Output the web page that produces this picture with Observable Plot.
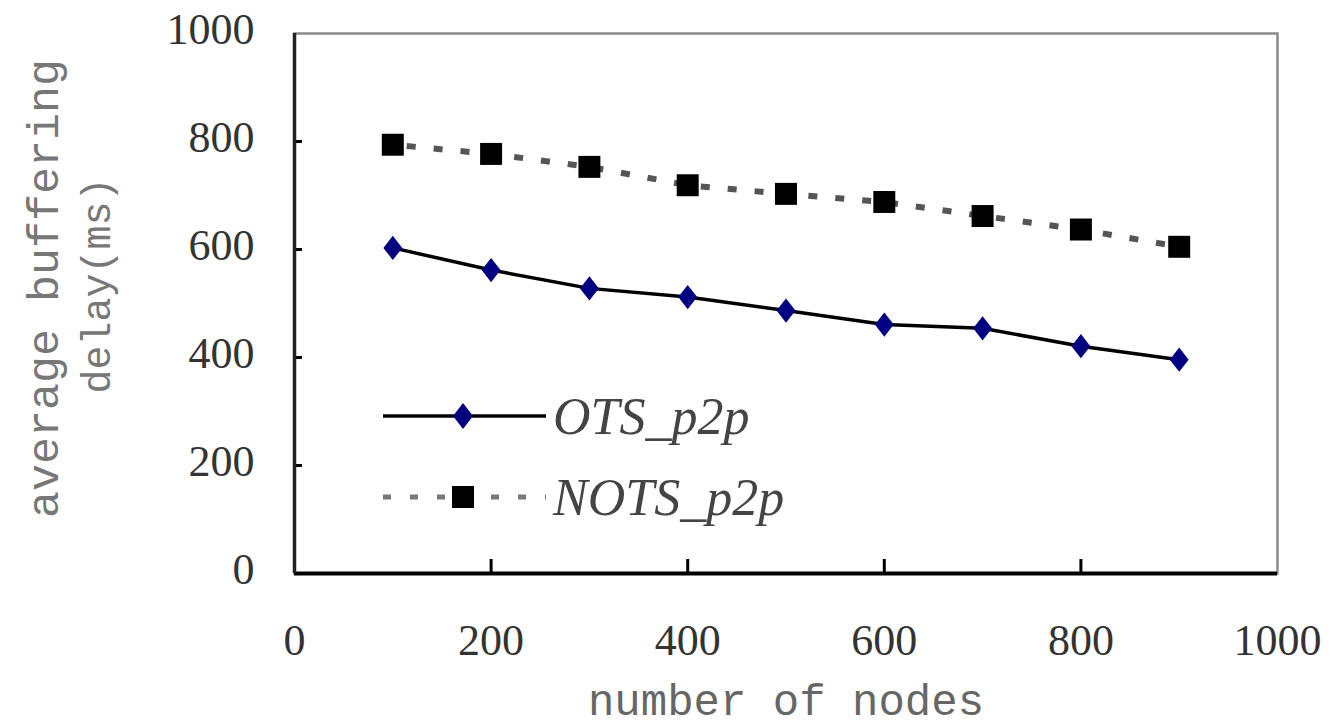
<!DOCTYPE html>
<html>
<head>
<meta charset="utf-8">
<script src="https://cdn.jsdelivr.net/npm/d3@7"></script>
<script src="https://cdn.jsdelivr.net/npm/@observablehq/plot@0.6"></script>
<style>
  html, body { margin: 0; padding: 0; background: #fff; }
  #wrap { position: relative; width: 1331px; height: 720px; }
  #legend { position: absolute; left: 0; top: 0; pointer-events: none; }
</style>
</head>
<body>
<div id="wrap"></div>
<script>
const nodes = [100, 200, 300, 400, 500, 600, 700, 800, 900];
const otsDelay = [603, 562, 528, 512, 487, 461, 454, 421, 396];
const notsDelay = [794, 777, 753, 719, 703, 688, 662, 637, 605];
const seriesNames = ["OTS_p2p", "NOTS_p2p"];
const xTickLabels = [0, 200, 400, 600, 800, 1000];
const xTickMarks = [200, 400, 600, 800];
const yTickLabels = [0, 200, 400, 600, 800, 1000];
const yTickMarks = [200, 400, 600, 800];
const xTitle = "number of nodes";
const yTitle = ["average buffering", "delay(ms)"];

const ots = nodes.map((n, i) => ({x: n, y: otsDelay[i]}));
const nots = nodes.map((n, i) => ({x: n, y: notsDelay[i]}));

// squat diamond symbol
const diamond = {
  draw(context, size) {
    const h = Math.sqrt(size) * 0.72;
    const w = h * 0.78;
    context.moveTo(0, -h);
    context.lineTo(w, 0);
    context.lineTo(0, h);
    context.lineTo(-w, 0);
    context.closePath();
  }
};

const tickFont = "'Liberation Serif', 'Times New Roman', serif";
const monoFont = "'Liberation Mono', 'Courier New', monospace";
const fmt = d3.format("d");

const chart = Plot.plot({
  width: 1331,
  height: 720,
  marginLeft: 294,
  marginRight: 54,
  marginTop: 33,
  marginBottom: 147,
  style: {background: "#fff", overflow: "visible"},
  x: {domain: [0, 1000], label: null},
  y: {domain: [0, 1000], label: null},
  marks: [
    Plot.frame({stroke: "#8a8a8a", strokeWidth: 2.5}),
    Plot.axisX(xTickLabels, {tickSize: 0, tickPadding: 50, fontSize: 44, fontFamily: tickFont, fill: "#333", tickFormat: fmt, label: null, style: "letter-spacing:3px"}),
    Plot.axisX(xTickMarks, {text: null, tickSize: -14, stroke: "#000", strokeWidth: 3, label: null}),
    Plot.axisY(yTickLabels, {tickSize: 0, tickPadding: 40, fontSize: 44, fontFamily: tickFont, fill: "#333", dy: -4, tickFormat: fmt, label: null, style: "letter-spacing:3px"}),
    Plot.axisY(yTickMarks, {text: null, tickSize: -8, stroke: "#000", strokeWidth: 3, label: null}),
    Plot.ruleY([0], {stroke: "#000", strokeWidth: 4}),
    Plot.ruleX([0], {stroke: "#222", strokeWidth: 3.5}),
    Plot.text([xTitle], {frameAnchor: "bottom", dy: 127, lineAnchor: "middle", fontSize: 44, fontFamily: monoFont, fill: "#666"}),
    Plot.text([yTitle[0]], {frameAnchor: "left", textAnchor: "middle", rotate: -90, dx: -251, dy: -15, fontSize: 45, fontFamily: monoFont, fill: "#777"}),
    Plot.text([yTitle[1]], {frameAnchor: "left", textAnchor: "middle", rotate: -90, dx: -197, dy: -18, fontSize: 40, fontFamily: monoFont, fill: "#777"}),
    Plot.line(nots, {x: "x", y: "y", stroke: "#555", strokeWidth: 6, strokeLinecap: "butt", strokeDasharray: "9,18", strokeDashoffset: -14}),
    Plot.line(ots, {x: "x", y: "y", stroke: "#000", strokeWidth: 3.5}),
    Plot.dot(nots, {x: "x", y: "y", symbol: "square", r: 12.4, fill: "#000", stroke: "none"}),
    Plot.dot(ots, {x: "x", y: "y", symbol: diamond, r: 9.5, fill: "#000080", stroke: "none"})
  ]
});

const wrap = document.getElementById("wrap");
wrap.appendChild(chart);

// legend overlay inside plot area
const ns = "http://www.w3.org/2000/svg";
const leg = document.createElementNS(ns, "svg");
leg.setAttribute("id", "legend");
leg.setAttribute("width", 1331);
leg.setAttribute("height", 720);
const serifItalic = "'Liberation Serif', 'Times New Roman', serif";
const items = [
  {y: 416, name: seriesNames[0], solid: true},
  {y: 497, name: seriesNames[1], solid: false}
];
items.forEach(it => {
  const line = document.createElementNS(ns, "line");
  line.setAttribute("x1", 383); line.setAttribute("x2", 546);
  line.setAttribute("y1", it.y); line.setAttribute("y2", it.y);
  if (it.solid) {
    line.setAttribute("stroke", "#000"); line.setAttribute("stroke-width", 3.5);
  } else {
    line.setAttribute("stroke", "#777"); line.setAttribute("stroke-width", 5);
    line.setAttribute("stroke-dasharray", "8,19");
  }
  leg.appendChild(line);
  if (it.solid) {
    const p = document.createElementNS(ns, "path");
    p.setAttribute("d", `M463,${it.y - 13}L473,${it.y}L463,${it.y + 13}L453,${it.y}Z`);
    p.setAttribute("fill", "#000080");
    leg.appendChild(p);
  } else {
    const r = document.createElementNS(ns, "rect");
    r.setAttribute("x", 452); r.setAttribute("y", it.y - 11);
    r.setAttribute("width", 22); r.setAttribute("height", 22);
    r.setAttribute("fill", "#000");
    leg.appendChild(r);
  }
  const t = document.createElementNS(ns, "text");
  t.setAttribute("x", 553); t.setAttribute("y", it.y + 18);
  t.setAttribute("font-family", serifItalic);
  t.setAttribute("font-style", "italic");
  t.setAttribute("font-size", 52);
  t.setAttribute("fill", "#444");
  t.textContent = it.name;
  leg.appendChild(t);
});
wrap.appendChild(leg);
</script>
</body>
</html>
